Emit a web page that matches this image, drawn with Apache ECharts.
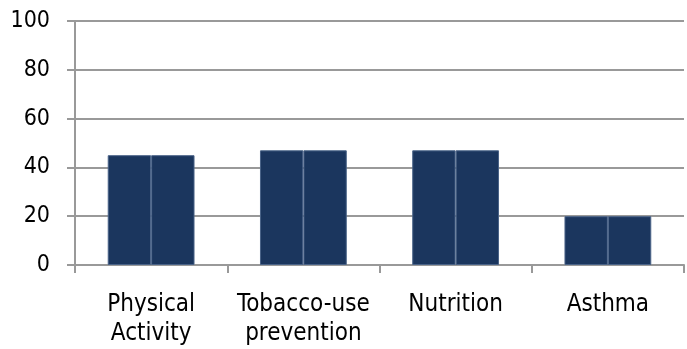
<!DOCTYPE html>
<html>
<head>
<meta charset="utf-8">
<script src="https://cdn.jsdelivr.net/npm/echarts@6/dist/echarts.min.js"></script>
<style>html,body{margin:0;padding:0;background:#fff;}#c{width:687px;height:349px;}</style>
</head>
<body>
<div id="c"></div>
<script>
var categories = ['Physical\nActivity', 'Tobacco-use\nprevention', 'Nutrition', 'Asthma'];
var valuesA = [45, 47, 47, 20];
var valuesB = [45, 47, 47, 20];
var yTicks = [0, 20, 40, 60, 80, 100];

var chart = echarts.init(document.getElementById('c'), null, {renderer: 'canvas'});
var barStyle = {color: '#1b365e', borderColor: '#4a6388', borderWidth: 1};
chart.setOption({
  animation: false,
  grid: {left: 75, right: 3, top: 21, bottom: 84, containLabel: false},
  xAxis: {
    type: 'category',
    data: categories,
    axisLine: {lineStyle: {color: '#999999', width: 2}},
    axisTick: {show: true, length: 8, alignWithLabel: false, lineStyle: {color: '#999999', width: 2}},
    axisLabel: {color: '#000', fontFamily: 'DejaVu Sans Condensed', fontSize: 24, lineHeight: 29, margin: 25, interval: 0}
  },
  yAxis: {
    type: 'value',
    min: yTicks[0],
    max: yTicks[yTicks.length - 1],
    interval: 20,
    axisLine: {show: true, lineStyle: {color: '#999999', width: 2}},
    axisTick: {show: true, length: 8, lineStyle: {color: '#999999', width: 2}},
    splitLine: {show: true, lineStyle: {color: '#999999', width: 2}},
    axisLabel: {color: '#000', fontFamily: 'DejaVu Sans Condensed', fontSize: 23, margin: 25}
  },
  series: [
    {type: 'bar', data: valuesA, barGap: '0%', barCategoryGap: '43%', itemStyle: barStyle},
    {type: 'bar', data: valuesB, barGap: '0%', barCategoryGap: '43%', itemStyle: barStyle}
  ]
});
</script>
</body>
</html>
